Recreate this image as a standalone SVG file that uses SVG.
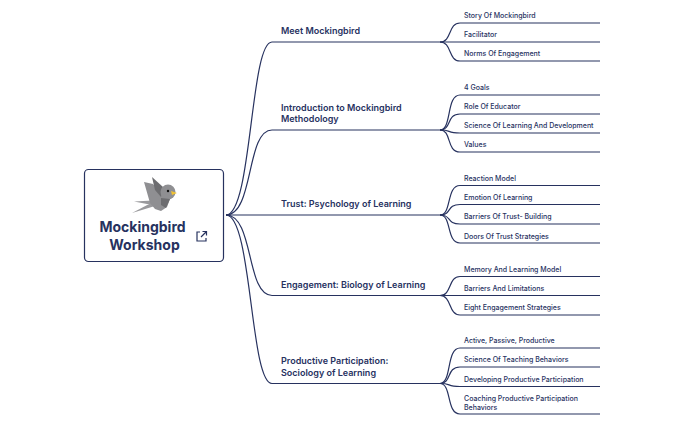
<svg xmlns="http://www.w3.org/2000/svg" width="684" height="423" viewBox="0 0 684 423">
<style>
.c{fill:none;stroke:#27325f;stroke-width:1.2}
text{font-family:"Inter","Liberation Sans",sans-serif;fill:#27325f}
.b{font-size:9px;font-weight:600}
.l{font-size:7px;font-weight:500}
.t{font-size:14px;font-weight:700;text-anchor:middle}
</style>
<rect width="684" height="423" fill="#fff"/>
<g id="connectors">
<path class="c" d="M226 215C252 215 250 42 272 42H440"/>
<path class="c" d="M226 215C254 215 246 130 272 130H440"/>
<path class="c" d="M226 215H440"/>
<path class="c" d="M226 215C254 215 246 295.500 272 295.500H440"/>
<path class="c" d="M226 215C252 215 250 383.500 272 383.500H440"/>
<path class="c" d="M440 42C452 42 448 23 460 23H600"/>
<path class="c" d="M440 42H600"/>
<path class="c" d="M440 42C452 42 448 61 460 61H600"/>
<path class="c" d="M440 130C452 130 446 95 460 95H600"/>
<path class="c" d="M440 130C452 130 446 114 460 114H600"/>
<path class="c" d="M440 130C452 130 446 133 460 133H600"/>
<path class="c" d="M440 130C452 130 446 152 460 152H600"/>
<path class="c" d="M440 215C452 215 446 185.500 460 185.500H600"/>
<path class="c" d="M440 215C452 215 446 204.500 460 204.500H600"/>
<path class="c" d="M440 215C452 215 446 224 460 224H600"/>
<path class="c" d="M440 215C452 215 446 243 460 243H600"/>
<path class="c" d="M440 295.500C452 295.500 448 276.500 460 276.500H600"/>
<path class="c" d="M440 295.500H600"/>
<path class="c" d="M440 295.500C452 295.500 448 315 460 315H600"/>
<path class="c" d="M440 383.500C452 383.500 446 348 460 348H600"/>
<path class="c" d="M440 383.500C452 383.500 446 367 460 367H600"/>
<path class="c" d="M440 383.500C452 383.500 446 386.500 460 386.500H600"/>
<path class="c" d="M440 383.500C452 383.500 446 414 460 414H600"/>
</g>
<g id="root">
<rect x="84.500" y="169.500" width="139" height="92" rx="4" fill="#fff" stroke="#27325f" stroke-width="1.200"/>
<g id="bird">
<path d="M134 201.500L153 200.500L155 204L147 204Z" fill="#9a9a9d"/>
<path d="M132 213L151 203L155 206Z" fill="#9a9a9d"/>
<path d="M144 182L153 184L162 195L170 199L167 207L161 211L155 209L150 203Z" fill="#8f8f92"/>
<path d="M152 177L163 187L161 197L155 190Z" fill="#6d6d70"/>
<circle cx="168" cy="192" r="7.500" fill="#8f8f92"/>
<path d="M161 198L170 199L166 208L161 205Z" fill="#6d6d70"/>
<path d="M171 191L177 193L172 195Z" fill="#f2c230"/>
<circle cx="168" cy="191" r="1.200" fill="#111"/>
</g>
<text class="t" x="142.500" y="232">Mockingbird</text>
<text class="t" x="144.500" y="250">Workshop</text>
<g fill="none" stroke="#27325f" stroke-width="1.200">
<path d="M200 232H197V241H206V238"/><path d="M201 237L206.500 231.500M202.500 231.500H206.500V235.500"/>
</g>
</g>
<g id="b1"><text class="b" x="281" y="34">Meet Mockingbird</text></g>
<g id="b2"><text class="b" x="281" y="110.500">Introduction to Mockingbird</text><text class="b" x="281" y="122">Methodology</text></g>
<g id="b3"><text class="b" x="281" y="207">Trust: Psychology of Learning</text></g>
<g id="b4"><text class="b" x="281" y="288">Engagement: Biology of Learning</text></g>
<g id="b5"><text class="b" x="281" y="364">Productive Participation:</text><text class="b" x="281" y="375.500">Sociology of Learning</text></g>
<g id="l1"><text class="l" x="464" y="18">Story Of Mockingbird</text></g>
<g id="l2"><text class="l" x="464" y="37">Facilitator</text></g>
<g id="l3"><text class="l" x="464" y="56">Norms Of Engagement</text></g>
<g id="l4"><text class="l" x="464" y="90">4 Goals</text></g>
<g id="l5"><text class="l" x="464" y="109">Role Of Educator</text></g>
<g id="l6"><text class="l" x="464" y="128">Science Of Learning And Development</text></g>
<g id="l7"><text class="l" x="464" y="147">Values</text></g>
<g id="l8"><text class="l" x="464" y="180.500">Reaction Model</text></g>
<g id="l9"><text class="l" x="464" y="200">Emotion Of Learning</text></g>
<g id="l10"><text class="l" x="464" y="219">Barriers Of Trust- Building</text></g>
<g id="l11"><text class="l" x="464" y="238.500">Doors Of Trust Strategies</text></g>
<g id="l12"><text class="l" x="464" y="271.500">Memory And Learning Model</text></g>
<g id="l13"><text class="l" x="464" y="291">Barriers And Limitations</text></g>
<g id="l14"><text class="l" x="464" y="310">Eight Engagement Strategies</text></g>
<g id="l15"><text class="l" x="464" y="343">Active, Passive, Productive</text></g>
<g id="l16"><text class="l" x="464" y="362">Science Of Teaching Behaviors</text></g>
<g id="l17"><text class="l" x="464" y="382">Developing Productive Participation</text></g>
<g id="l18"><text class="l" x="464" y="401">Coaching Productive Participation</text><text class="l" x="464" y="409.500">Behaviors</text></g>
</svg>
